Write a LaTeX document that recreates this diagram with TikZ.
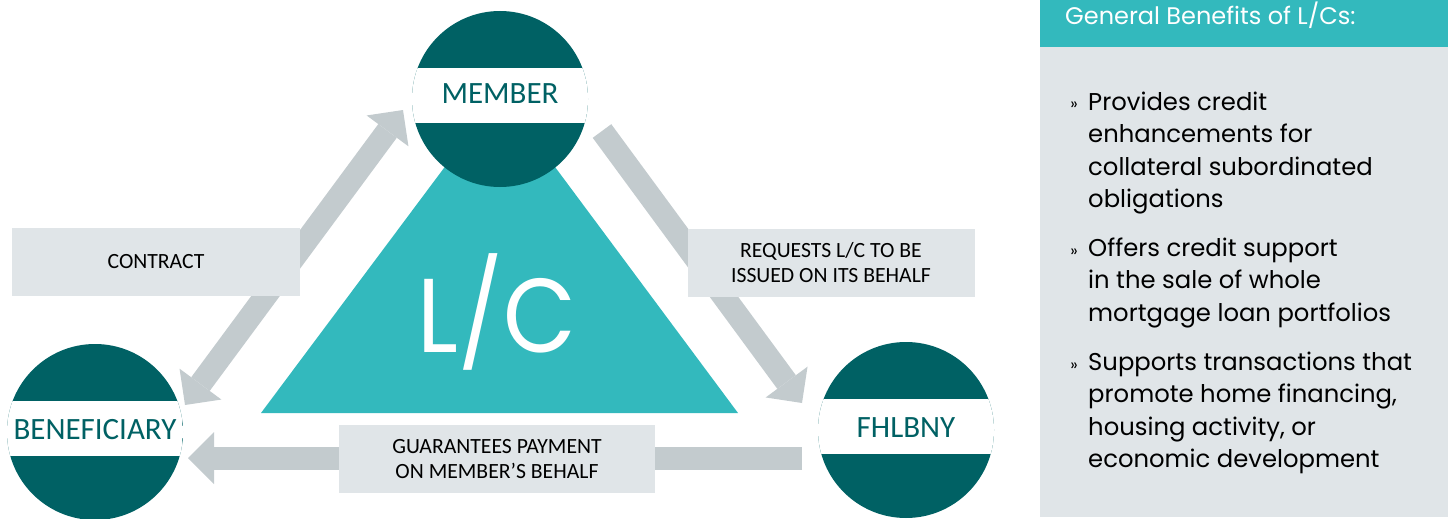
\documentclass[tikz,border=0pt]{standalone}
\usepackage{fontspec}
\setmainfont{Carlito}
\newfontfamily\gothic{Poppins}
\newfontfamily\gothicnarrow{Poppins}[FakeStretch=0.9]
\usetikzlibrary{arrows.meta, calc}
\definecolor{darkteal}{RGB}{0,97,100}
\definecolor{lightteal}{RGB}{51,185,189}
\definecolor{arrowgray}{RGB}{195,203,206}
\definecolor{boxgray}{RGB}{224,229,232}
\tikzset{
    fathead/.tip={Triangle[length=26pt, width=52pt, line width=0pt]},
    hub/.style={circle, fill=darkteal, minimum size=176pt, inner sep=0pt,
        path picture={\fill [white] ([yshift=31pt]path picture bounding box.west) rectangle ([yshift=-24pt]path picture bounding box.east);}},
    hubname/.style={anchor=base, inner sep=0pt, text=darkteal, font=\fontsize{31}{36}\selectfont},
    fatone/.style={draw=arrowgray, line width=23pt, -fathead},
    fatboth/.style={draw=arrowgray, line width=23pt, fathead-fathead},
    tag/.style={fill=boxgray, minimum height=68pt, inner sep=0pt, align=center, font=\fontsize{21.7}{25}\selectfont},
    perk/.style={anchor=base west, align=left, inner sep=0pt, font=\gothic\fontsize{24.3}{32.5}\selectfont},
    chev/.style={anchor=base east, inner sep=0pt, font=\gothic\fontsize{16}{18}\selectfont}
}

\begin{document}
\begin{tikzpicture}[x=1pt, y=-1pt]
    \useasboundingbox (0,0) rectangle (1448,519);
    % L/C triangle
    \fill [lightteal] (500,93) -- (261,413) -- (738,413) -- cycle;
    \node [anchor=base, inner sep=0pt, text=white, font=\gothicnarrow\fontsize{105}{110}\selectfont] (lc) at (497,352) {L/C};

    % parties
    \node [hub] (member) at (500,99) {};
    \node [hub] (benef) at (95,432) {};
    \node [hub] (fhlbny) at (906,430) {};
    \node [hubname] (memberlbl) at ($(member)+(0,4)$) {MEMBER};
    \node [hubname] (beneflbl) at ($(benef)+(0,7)$) {BENEFICIARY};
    \node [hubname] (fhlbnylbl) at ($(fhlbny)+(0,7)$) {FHLBNY};

    % flows
    \draw [fatboth] ($(benef)+(90,-27)$) -- ($(member)+(-97,11)$);
    \draw [fatone] ($(member)+(102,32)$) -- ($(fhlbny)+(-104,-27)$);
    \draw [fatone] ($(fhlbny)+(-104,28)$) -- ($(benef)+(93,26)$);

    \node [tag, minimum width=288pt] (contract) at (156,262) {CONTRACT};
    \node [tag, minimum width=287pt] (request) at (831,263) {REQUESTS L/C TO BE\\ISSUED ON ITS BEHALF};
    \node [tag, minimum width=316pt] (guarantee) at (497,459) {GUARANTEES PAYMENT\\ON MEMBER’S BEHALF};

    % side panel
    \fill [boxgray] (1040,47) rectangle (1448,517);
    \fill [lightteal] (1040,0) rectangle (1448,47);
    \node [anchor=base west, inner sep=0pt, text=white, font=\gothic\fontsize{24}{26}\selectfont] (benhead) at (1065,25) {General Benefits of L/Cs:};
    % perk nodes sit on the baseline of their last line
    \node [perk] (perk1) at (1088,207.5) {Provides credit\\enhancements for\\collateral subordinated\\obligations};
    \node [perk] (perk2) at (1088,321) {Offers credit support\\in the sale of whole\\mortgage loan portfolios};
    \node [perk] (perk3) at (1088,467.5) {Supports transactions that\\promote home financing,\\housing activity, or\\economic development};
    \node [chev] (chev1) at (1078,110) {»};
    \node [chev] (chev2) at (1078,256) {»};
    \node [chev] (chev3) at (1078,370) {»};
\end{tikzpicture}
\end{document}
